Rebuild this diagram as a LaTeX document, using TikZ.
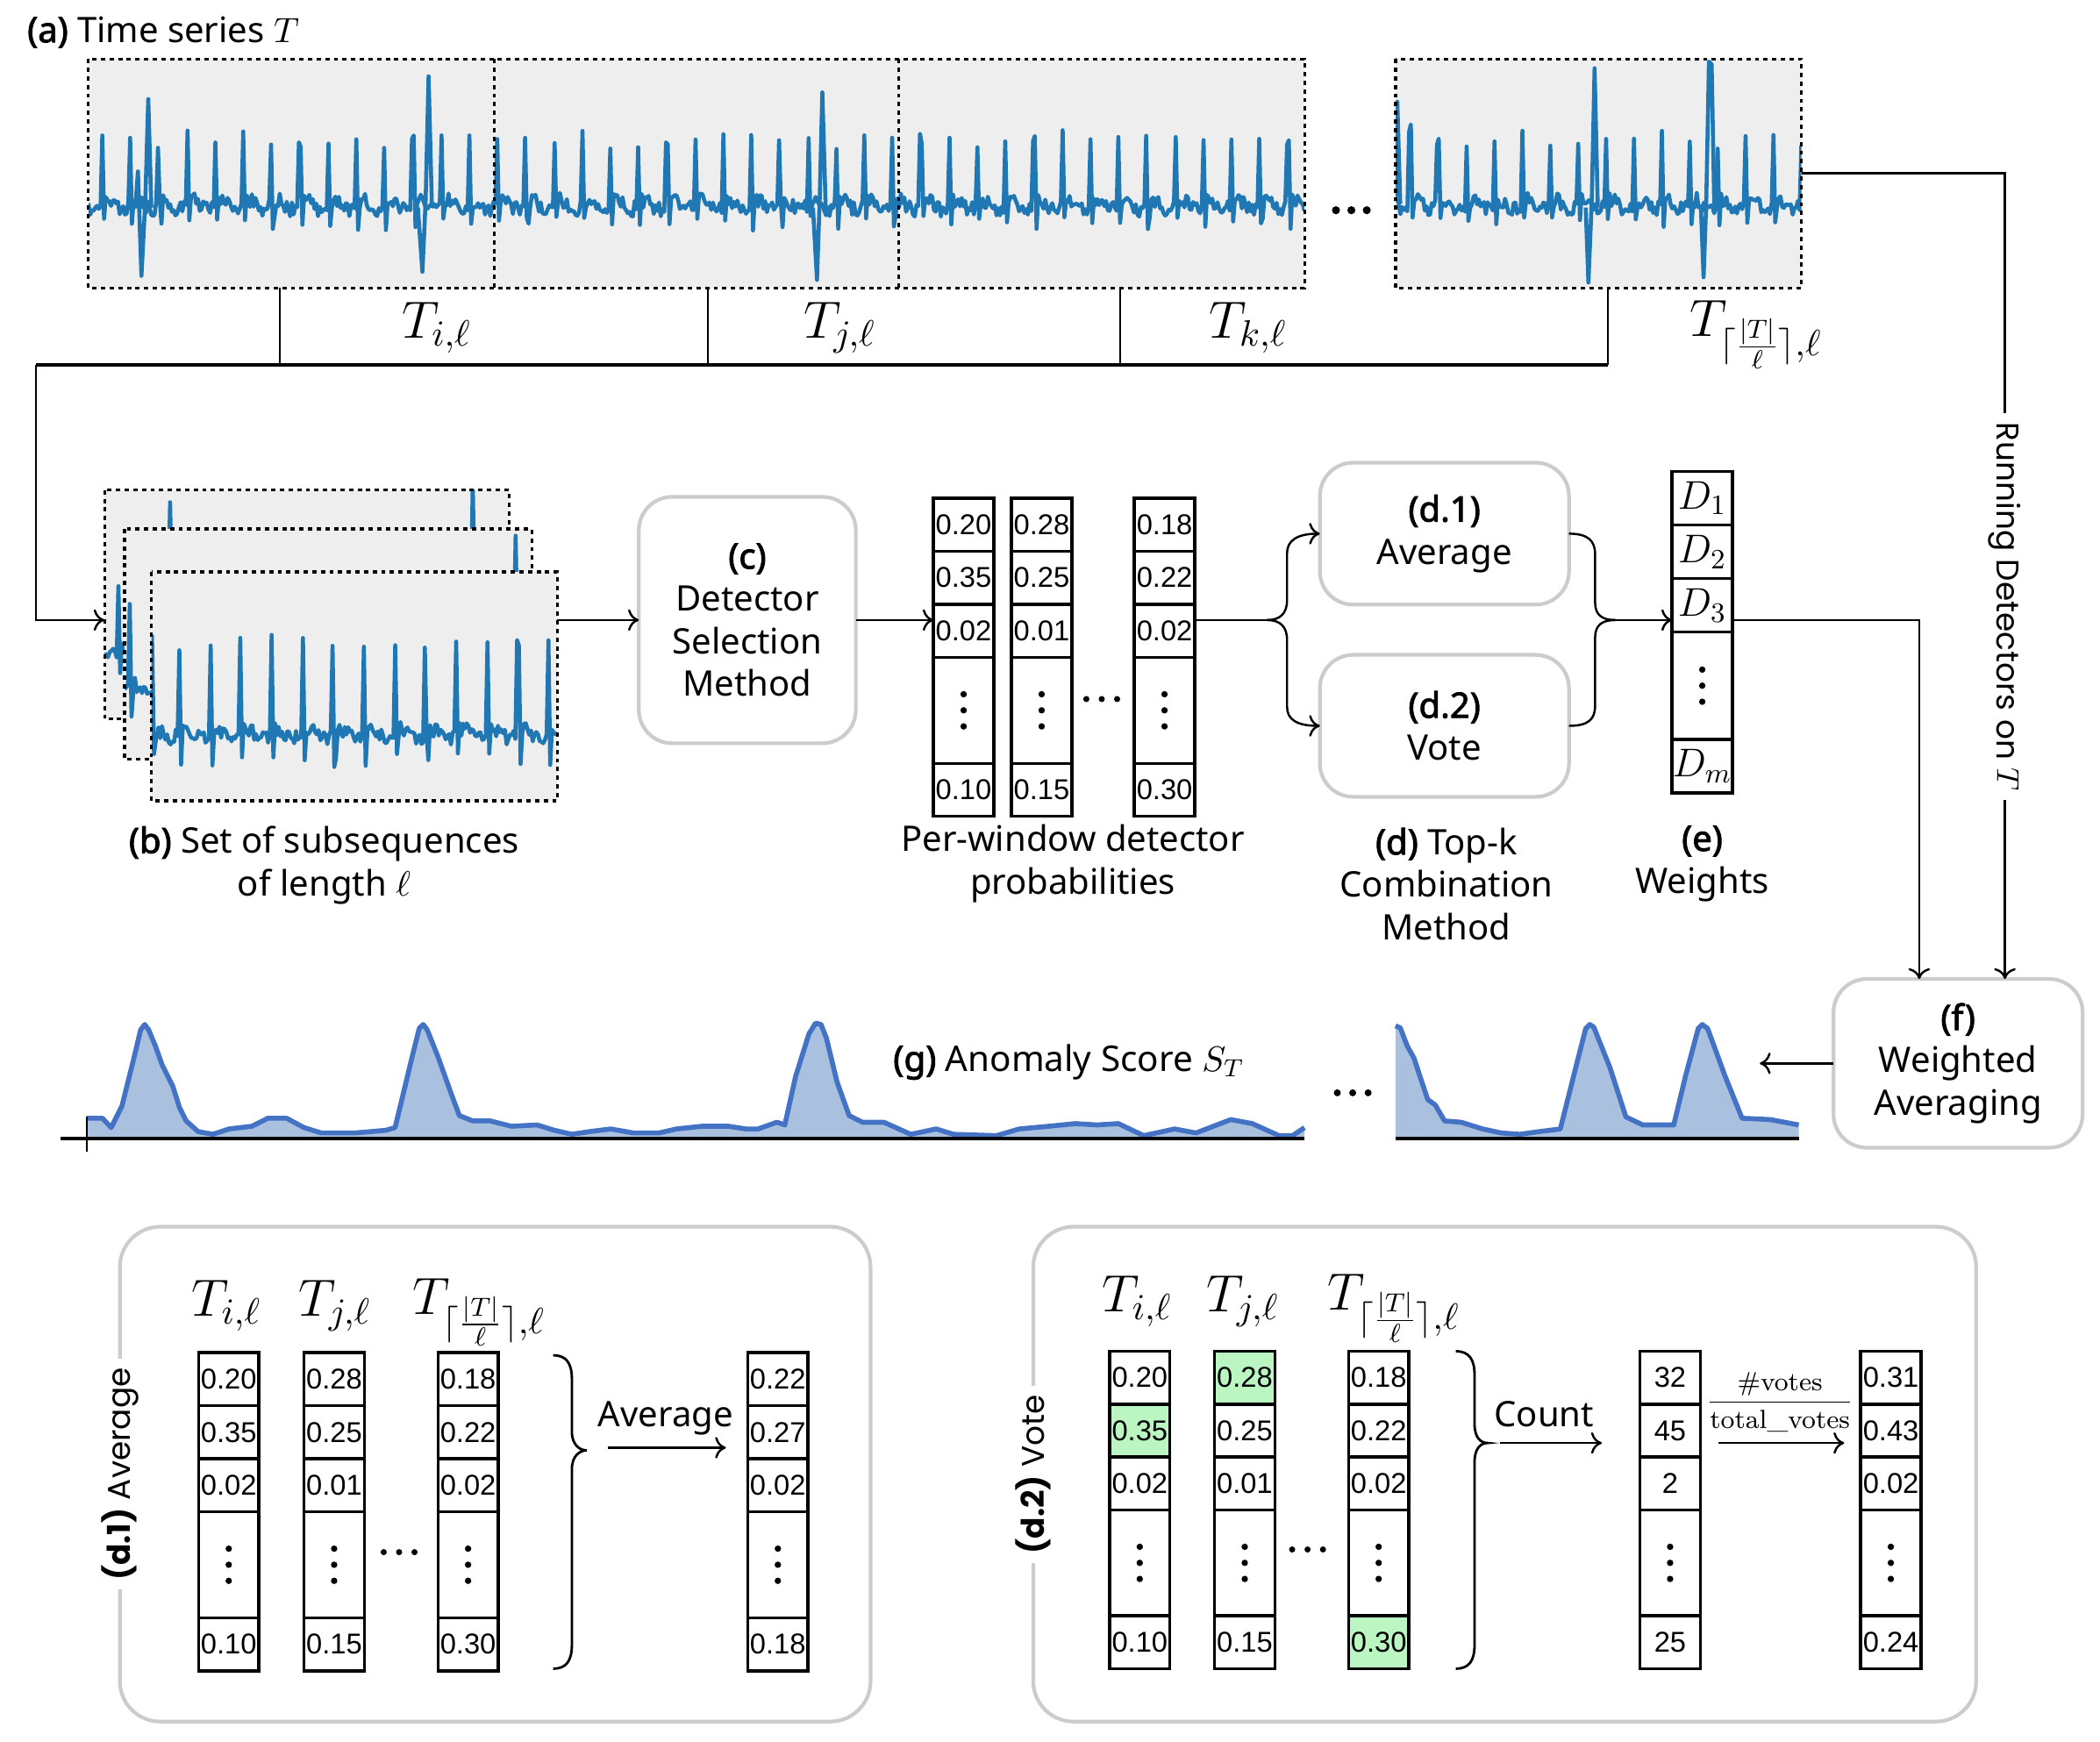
\RequirePackage{fix-cm}
\documentclass[tikz,border=0pt]{standalone}
\usepackage{fontspec}
\setmainfont{Noto Sans}[BoldFont={Noto Sans}, BoldFeatures={FakeBold=2.2}]
\newfontfamily\cellfont{Liberation Sans}
\newfontfamily\popfont{Poppins}
\newfontfamily\lmrfont{Latin Modern Roman}
\usetikzlibrary{arrows.meta}
\definecolor{tsblue}{HTML}{1F77B4}
\definecolor{boxgray}{HTML}{EEEEEE}
\definecolor{bordergray}{HTML}{CCCCCC}
\definecolor{scoreline}{HTML}{4472C4}
\definecolor{scorefill}{HTML}{A9C1DF}
\definecolor{votegreen}{HTML}{BBF5C2}
\def\unitU{0.015268cm}
\newcommand\mainfs{\fontsize{11.4}{13.8}\selectfont}
\newcommand\mathfs{\fontsize{17}{20}\selectfont}

\tikzset{
  tsline/.style={tsblue, line width=1.3pt, line join=round},
  tsbg/.style={fill=boxgray, inner sep=0pt, outer sep=0pt},
  dbox/.style={draw=black, line width=0.9pt, dash pattern=on 1.4pt off 1.4pt},
  rbox/.style={draw=bordergray, line width=1.2pt, rounded corners=0.38cm, fill=white, align=center, font=\mainfs, inner sep=0pt, outer sep=0pt},
  panel/.style={draw=bordergray, line width=1.2pt, rounded corners=0.46cm, inner sep=0pt, outer sep=0pt},
  cell/.style={draw=black, line width=1pt, minimum width=45*\unitU, inner sep=0pt, outer sep=0pt, font=\cellfont\fontsize{9.3}{9.3}\selectfont},
  wcell/.style={cell, minimum height=40*\unitU, font=\fontsize{13}{13}\selectfont},
  conn/.style={line width=0.7pt},
  arr/.style={line width=0.7pt, -{To[length=3.5pt,width=7pt]}},
  lbl/.style={font=\mainfs, align=center, inner sep=0pt},
  tlab/.style={font=\mathfs, inner sep=0pt},
  rotlab/.style={fill=white, inner sep=3pt, font=\popfont\fontsize{10.2}{12}\selectfont},
  vAr2/.style={fill=votegreen},
  vBr1/.style={fill=votegreen},
  vCr5/.style={fill=votegreen},
  scoreA/.style={insert path={-- (65,835) -- (76.5,835) -- (83,842) -- (91,826) -- (100,790) -- (105,769) -- (108,765) -- (111,769) -- (116,781) -- (121,795) -- (129,811) -- (134,827) -- (139,837) -- (148,845) -- (159,847) -- (171,843) -- (188,841) -- (200,835) -- (214,835) -- (227,842) -- (240,846) -- (265,846) -- (288,844) -- (295,842) -- (308,788) -- (313,768) -- (316,765) -- (319,769) -- (327,789) -- (337,817) -- (343,833) -- (353,837) -- (366,837) -- (382,841) -- (401,840) -- (414,844) -- (427,847) -- (440,845) -- (456,843) -- (473,846) -- (492,846) -- (505,843) -- (524,841) -- (544,841) -- (557,843) -- (566,843) -- (580,838) -- (586,840) -- (594,804) -- (604,772) -- (609,764) -- (613,765) -- (617,775) -- (625,808) -- (634,833) -- (644,838) -- (660,838) -- (680,847) -- (699,843) -- (712,847) -- (744,848) -- (761,843) -- (783,841) -- (803,839) -- (819,840) -- (835,839) -- (854,848) -- (877,843) -- (893,846) -- (919,836) -- (935,839) -- (955,848) -- (965,848) -- (974,842)}},
  scoreB/.style={insert path={-- (1042,766) -- (1045.5,767.5) -- (1050.7,781) -- (1055.7,790) -- (1066,821) -- (1071.6,825) -- (1078.6,837) -- (1091,838) -- (1107,843) -- (1121,846) -- (1135,847) -- (1149,845) -- (1165,843) -- (1177.6,793) -- (1184,768) -- (1187,765) -- (1190,767) -- (1202,797) -- (1214,834) -- (1226.6,840) -- (1249.7,840) -- (1258.5,803.5) -- (1268,768) -- (1271,765) -- (1275,768) -- (1288,803.5) -- (1300.7,835) -- (1321.8,836) -- (1343,840)}}
}

\newcommand\ecg[7]{\draw[tsline] plot[domain=#1:#2, samples=#7, variable=\tx] (\tx, {#3 + 5.5*rand - 3.5*sin(360/#5*mod(\tx-#6+20*#5,#5)) - (#4 + 6*rand)*(mod(\tx-#6+20*#5,#5) < 1.45) + 0.32*#4*(mod(\tx-#6-1.5+20*#5,#5) < 1.45)});}
\newcommand\vdotsat[1]{\foreach \yy in {-12,0,12}{\fill (#1.center) ++(0,\yy) circle (2.4);}}
\newcommand\hdotsat[3]{\foreach \xx in {-11.5,0,11.5}{\fill ({#1+(\xx)},#2) circle (#3);}}
\newcommand\pcol[8]{%
  \node[cell, minimum height=#4*\unitU, #1r1/.try] (#1r1) at (#2,{#3+0.5*#4}) {#5};
  \node[cell, minimum height=#4*\unitU, #1r2/.try] (#1r2) at (#2,{#3+1.5*#4}) {#6};
  \node[cell, minimum height=#4*\unitU, #1r3/.try] (#1r3) at (#2,{#3+2.5*#4}) {#7};
  \node[cell, minimum height=2*#4*\unitU] (#1r4) at (#2,{#3+4*#4}) {};
  \vdotsat{#1r4}
  \node[cell, minimum height=#4*\unitU, #1r5/.try] (#1r5) at (#2,{#3+5.5*#4}) {#8};
}
\newcommand\bracedraw[5]{%
  \draw[line width=0.8pt] (#1,#2) .. controls ({#1+10},#2) and ({#1+14},{#2+6}) .. ({#1+14},{#2+18}) -- ({#1+14},{#3-14}) .. controls ({#1+14},{#3-4}) and ({#5-5},#3) .. (#5,#3) .. controls ({#5-5},#3) and ({#1+14},{#3+4}) .. ({#1+14},{#3+14}) -- ({#1+14},{#4-18}) .. controls ({#1+14},{#4-6}) and ({#1+10},#4) .. (#1,#4);
}

\begin{document}
\begin{tikzpicture}[x=0.015268cm, y=-0.015268cm]
\pgfmathsetseed{12}
\useasboundingbox (0,0) rectangle (1568,1300.7);

% ---------- (a) time series ----------
\node[lbl, anchor=west] (lblA) at (20,24) {\textbf{(a)} Time series $T$};

\node[tsbg, minimum width=908*\unitU, minimum height=171*\unitU] (ts1) at (520,129.5) {};
\node[tsbg, minimum width=303*\unitU, minimum height=171*\unitU] (ts2) at (1193.5,129.5) {};
\begin{scope}
  \clip (ts1.north west) rectangle (ts1.south east);
  \ecg{66}{974}{153}{48}{21.08}{75.6}{700}
  \draw[tsline] (101,155) -- (103,128) -- (105.6,206) -- (108.5,150) -- (110.7,74) -- (113,155);
  \draw[tsline] (312,155) -- (315.4,203) -- (317.8,150) -- (320,57) -- (322.5,155);
  \draw[tsline] (607,155) -- (610,209) -- (612,150) -- (614,69) -- (616.5,155);
\end{scope}
\draw[dbox] (ts1.north -| 369,0) -- (ts1.south -| 369,0);
\draw[dbox] (ts1.north -| 671,0) -- (ts1.south -| 671,0);
\draw[dbox] (ts1.north west) rectangle (ts1.south east);
\begin{scope}
  \clip (ts2.north west) rectangle (ts2.south east);
  \ecg{1043}{1345}{153}{48}{20.9}{1052}{233}
  \draw[tsline] (1042,150) -- (1043.3,76) -- (1045.5,152);
  \draw[tsline] (1184,155) -- (1186,211) -- (1188.5,150) -- (1190.6,51) -- (1193,155);
  \draw[tsline] (1270,155) -- (1272,207) -- (1274,150) -- (1276,46) -- (1278,48) -- (1280,155);
\end{scope}
\draw[dbox] (ts2.north west) rectangle (ts2.south east);
\hdotsat{1009}{157}{3}

% bracket
\coordinate (b0) at (27,272.5);
\coordinate (bi) at (209,272.5);
\coordinate (bj) at (528.5,272.5);
\coordinate (bk) at (836.5,272.5);
\coordinate (bl) at (1200.5,272.5);
\draw[conn] (ts1.south -| bi) -- (bi);
\draw[conn] (ts1.south -| bj) -- (bj);
\draw[conn] (ts1.south -| bk) -- (bk);
\draw[conn] (ts2.south -| bl) -- (bl);
\draw[line width=1pt] (b0) -- (bl);

\node[tlab] (Ti) at (326,245) {$T_{i,\ell}$};
\node[tlab] (Tj) at (627,245) {$T_{j,\ell}$};
\node[tlab] (Tk) at (932,245) {$T_{k,\ell}$};
\node[tlab] (Tn) at (1311,250) {$T_{\lceil\frac{|T|}{\ell}\rceil,\ell}$};

% ---------- (b) subsequences ----------
\node[tsbg, minimum width=302*\unitU, minimum height=171*\unitU] (sub1) at (229,451.5) {};
\begin{scope}
  \clip (sub1.north west) rectangle (sub1.south east);
  \ecg{78}{380}{485}{55}{23}{88}{233}
  \draw[tsline] (125,485) -- (127,375) -- (129,485);
  \draw[tsline] (351,485) -- (353,360) -- (355,485);
\end{scope}
\draw[dbox] (sub1.north west) rectangle (sub1.south east);
\node[tsbg, minimum width=304*\unitU, minimum height=172*\unitU] (sub2) at (245,481) {};
\begin{scope}
  \clip (sub2.north west) rectangle (sub2.south east);
  \ecg{93}{397}{515}{60}{23}{96}{235}
  \draw[tsline] (383,515) -- (385,400) -- (387,515);
\end{scope}
\draw[dbox] (sub2.north west) rectangle (sub2.south east);
\node[tsbg, minimum width=303*\unitU, minimum height=171*\unitU] (sub3) at (264.5,512.5) {};
\begin{scope}
  \clip (sub3.north west) rectangle (sub3.south east);
  \draw[tsline] (113.5,474) -- (115,563) -- (117,548);
  \ecg{117}{416}{548}{68}{23}{133}{231}
\end{scope}
\draw[dbox] (sub3.north west) rectangle (sub3.south east);

\node[lbl] (lblB) at (242,646) {\textbf{(b)} Set of subsequences\\of length $\ell$};

% ---------- (c) ----------
\node[rbox, minimum width=162*\unitU, minimum height=184*\unitU] (cbox) at (558,463) {\textbf{(c)}\\Detector\\Selection\\Method};
\draw[arr] (b0) |- (sub1.west |- cbox.west);
\draw[arr] (sub3.east |- cbox.west) -- (cbox.west);

% ---------- per-window probabilities ----------
\pcol{pA}{719.5}{372}{39.6}{0.20}{0.35}{0.02}{0.10}
\pcol{pB}{777.75}{372}{39.6}{0.28}{0.25}{0.01}{0.15}
\pcol{pC}{869.5}{372}{39.6}{0.18}{0.22}{0.02}{0.30}
\hdotsat{822.6}{522}{2.3}
\draw[arr] (cbox.east) -- (cbox.east -| pAr3.west);
\node[lbl] (lblP) at (801,645) {Per-window detector\\probabilities};

% ---------- (d) ----------
\node[rbox, minimum width=186*\unitU, minimum height=106*\unitU] (d1) at (1078.5,398.5) {\textbf{(d.1)}\\Average};
\node[rbox, minimum width=186*\unitU, minimum height=106*\unitU] (d2) at (1078.5,542) {\textbf{(d.2)}\\Vote};
\coordinate (fork) at (946,463);
\draw[conn] (pCr3.east |- fork) -- (fork);
\draw[arr] (fork) .. controls (956,463) and (961,458) .. (961,448) -- (961,413) .. controls (961,404) and (968,398.5) .. (d1.west);
\draw[arr] (fork) .. controls (956,463) and (961,468) .. (961,478) -- (961,528) .. controls (961,537) and (968,542) .. (d2.west);
\node[lbl] (lblD) at (1080,660) {\textbf{(d)} Top-k\\Combination\\Method};

% ---------- (e) weights ----------
\node[wcell] (w1) at (1271,372) {$D_1$};
\node[wcell] (w2) at (1271,412) {$D_2$};
\node[wcell] (w3) at (1271,452) {$D_3$};
\node[cell, minimum height=80*\unitU] (w4) at (1271,512) {};
\vdotsat{w4}
\node[wcell] (w5) at (1271,572) {$D_m$};
\coordinate (mrg) at (1206,463);
\draw[conn] (d1.east) .. controls (1186,398.5) and (1191,404) .. (1191,414) -- (1191,450) .. controls (1191,459) and (1196,463) .. (mrg);
\draw[conn] (d2.east) .. controls (1186,542) and (1191,537) .. (1191,527) -- (1191,476) .. controls (1191,467) and (1196,463) .. (mrg);
\draw[arr] (mrg) -- (mrg -| w3.west);
\node[lbl] (lblE) at (1271,645) {\textbf{(e)}\\Weights};

% ---------- (f) ----------
\node[rbox, minimum width=186*\unitU, minimum height=126*\unitU] (fbox) at (1462,794) {\textbf{(f)}\\Weighted\\Averaging};
\coordinate (fin1) at (1433,731);
\coordinate (fin2) at (1497,731);
\draw[arr] (mrg -| w3.east) -| (fin1);
\draw[arr] (ts2.east) -| (fin2);
\node[rotlab, rotate=-90] (run) at (1497,453) {Running Detectors on $T$};

% ---------- (g) anomaly score ----------
\coordinate (scEnd) at (1314,794);
\draw[arr] (fbox.west) -- (scEnd);
\fill[scorefill] (65,850) [scoreA] -- (974,850) -- cycle;
\draw[scoreline, line width=1.6pt, line join=round] (65,835) [scoreA];
\fill[scorefill] (1042,850) [scoreB] -- (1343,850) -- cycle;
\draw[scoreline, line width=1.6pt, line join=round] (1042,766) [scoreB];
\draw[line width=1.1pt] (45,850) -- (974,850);
\draw[line width=1.1pt] (1042,850) -- (1343,850);
\draw[line width=0.6pt] (65,834) -- (65,860);
\hdotsat{1010}{816}{2.6}
\node[lbl, font=\fontsize{11.5}{14}\selectfont] (lblG) at (798,793) {\textbf{(g)} Anomaly Score $S_T$};

% ---------- bottom panel (d.1) ----------
\node[panel, minimum width=560.5*\unitU, minimum height=369.5*\unitU] (P1) at (369.75,1100.75) {};
\node[rotlab, rotate=90] (P1lab) at (P1.west) {\textbf{(d.1)} Average};
\node[tlab] (qAh) at (169,975) {$T_{i,\ell}$};
\node[tlab] (qBh) at (250,975) {$T_{j,\ell}$};
\node[tlab] (qCh) at (357.6,980) {$T_{\lceil\frac{|T|}{\ell}\rceil,\ell}$};
\pcol{qA}{170.8}{1010}{39.6}{0.20}{0.35}{0.02}{0.10}
\pcol{qB}{249.5}{1010}{39.6}{0.28}{0.25}{0.01}{0.15}
\pcol{qC}{349.5}{1010}{39.6}{0.18}{0.22}{0.02}{0.30}
\pcol{qR}{580.8}{1010}{39.6}{0.22}{0.27}{0.02}{0.18}
\hdotsat{298}{1159}{2.3}
\bracedraw{413}{1012}{1083}{1246}{438}
\coordinate (avS) at (454,1081);
\coordinate (avE) at (542,1081);
\draw[arr] (avS) -- (avE);
\node[lbl] (avL) at (497,1059) {Average};

% ---------- bottom panel (d.2) ----------
\node[panel, minimum width=704*\unitU, minimum height=369.5*\unitU] (P2) at (1123.5,1100.75) {};
\node[rotlab, rotate=90] (P2lab) at (P2.west) {\textbf{(d.2)} Vote};
\node[tlab] (vAh) at (849,972) {$T_{i,\ell}$};
\node[tlab] (vBh) at (928,972) {$T_{j,\ell}$};
\node[tlab] (vCh) at (1040.5,977) {$T_{\lceil\frac{|T|}{\ell}\rceil,\ell}$};
\pcol{vA}{851}{1009}{39.5}{0.20}{0.35}{0.02}{0.10}
\pcol{vB}{929.4}{1009}{39.5}{0.28}{0.25}{0.01}{0.15}
\pcol{vC}{1029.4}{1009}{39.5}{0.18}{0.22}{0.02}{0.30}
\pcol{vN}{1247}{1009}{39.5}{32}{45}{2}{25}
\pcol{vR}{1411.8}{1009}{39.5}{0.31}{0.43}{0.02}{0.24}
\hdotsat{976.3}{1157}{2.3}
\bracedraw{1087}{1009}{1077.5}{1246}{1110.6}
\coordinate (cnS) at (1120,1077.5);
\coordinate (cnE) at (1196,1077.5);
\draw[arr] (cnS) -- (cnE);
\node[lbl] (cnL) at (1153,1056) {Count};
\coordinate (frS) at (1283,1077.5);
\coordinate (frE) at (1377,1077.5);
\draw[arr] (frS) -- (frE);
\node[inner sep=0pt, font=\fontsize{8.5}{10}\selectfont] (frL) at (1329,1047) {$\displaystyle\frac{\mbox{\lmrfont\#votes}}{\mbox{\lmrfont total\_votes}}$};

\end{tikzpicture}
\end{document}
